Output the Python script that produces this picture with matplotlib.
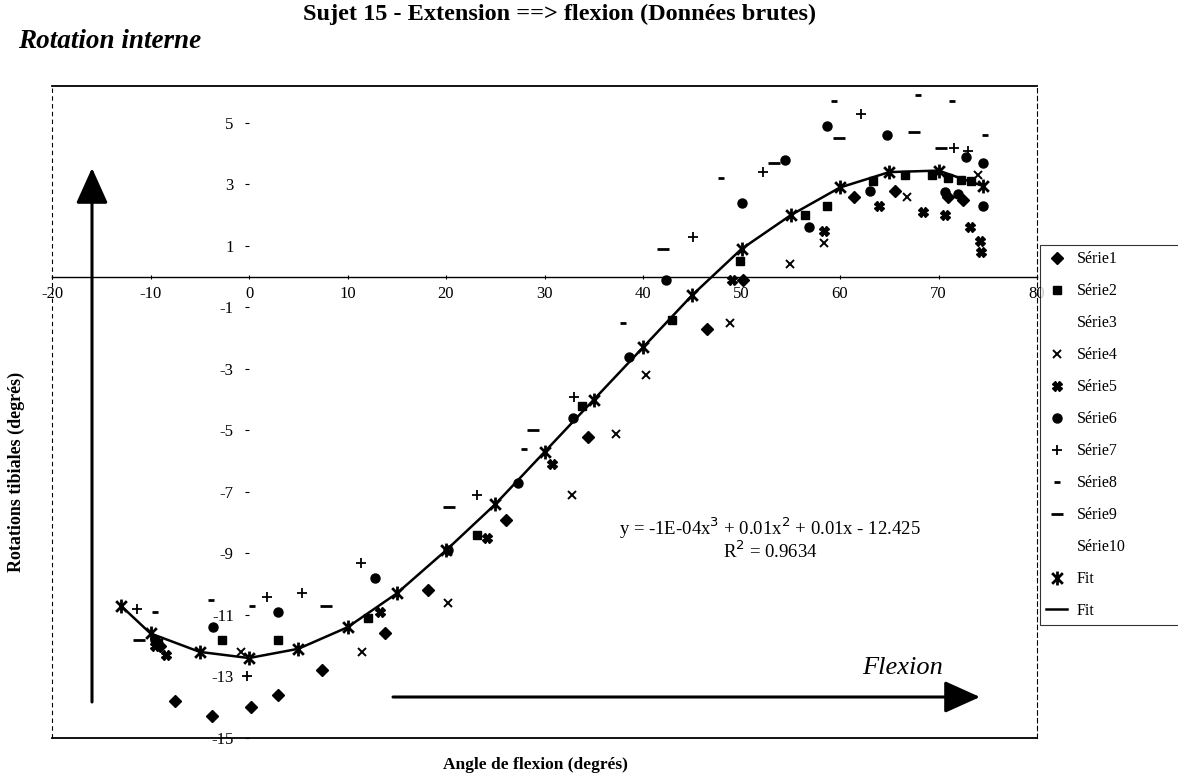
# Sujet 15 - rotations tibiales en fonction de l'angle de flexion
import matplotlib
matplotlib.use("Agg")
import matplotlib.pyplot as plt
from matplotlib.path import Path

plt.rcParams['font.family'] = ['Liberation Serif', 'DejaVu Serif']
plt.rcParams['axes.unicode_minus'] = False

# données (angle de flexion, rotation tibiale)
s1_x = [-9.0, -7.5, -3.8, 0.2, 2.9, 7.4, 13.8, 18.2, 26.1, 34.4, 46.5, 50.2, 61.4, 65.6, 71.0, 72.5]
s1_y = [-12.0, -13.8, -14.3, -14.0, -13.6, -12.8, -11.6, -10.2, -7.9, -5.2, -1.7, -0.1, 2.6, 2.8, 2.6, 2.5]

s2_x = [-9.2, -2.7, 2.9, 12.1, 23.1, 33.8, 42.9, 49.8, 56.4, 58.7, 63.3, 66.6, 69.3, 71.0, 72.3, 73.3]
s2_y = [-11.9, -11.8, -11.8, -11.1, -8.4, -4.2, -1.4, 0.5, 2.0, 2.3, 3.1, 3.3, 3.3, 3.2, 3.15, 3.1]

s3_x = []
s3_y = []

s4_x = [-0.8, 11.5, 20.2, 32.8, 37.3, 40.3, 48.8, 54.9, 58.4, 66.8, 74.0]
s4_y = [-12.2, -12.2, -10.6, -7.1, -5.1, -3.2, -1.5, 0.4, 1.1, 2.6, 3.3]

s5_x = [-9.5, -8.4, 13.3, 24.2, 30.8, 49.0, 58.4, 64.0, 68.4, 70.7, 73.2, 74.2, 74.3]
s5_y = [-12.0, -12.3, -10.9, -8.5, -6.1, -0.1, 1.5, 2.3, 2.1, 2.0, 1.6, 1.15, 0.8]

s6_x = [-9.5, -3.7, 2.9, 12.8, 20.2, 27.3, 32.9, 38.6, 42.3, 50.1, 54.4, 56.9, 58.7,
        63.0, 64.8, 70.7, 72.0, 72.8, 74.5, 74.5]
s6_y = [-11.8, -11.4, -10.9, -9.8, -8.9, -6.7, -4.6, -2.6, -0.1, 2.4, 3.8, 1.6, 4.9,
        2.8, 4.6, 2.75, 2.7, 3.9, 3.7, 2.3]

s7_x = [-11.4, -0.2, 1.8, 5.4, 11.4, 23.1, 33.0, 45.1, 52.2, 62.1, 71.6, 73.0]
s7_y = [-10.8, -13.0, -10.4, -10.3, -9.3, -7.1, -3.9, 1.3, 3.4, 5.3, 4.2, 4.1]

s8_x = [-9.5, -3.9, 0.3, 27.9, 38.0, 47.9, 59.4, 67.9, 71.4, 74.7]
s8_y = [-10.9, -10.5, -10.7, -5.6, -1.5, 3.2, 5.7, 5.9, 5.7, 4.6]

s9_x = [-11.2, 7.8, 20.3, 28.8, 42.0, 53.3, 59.9, 67.5, 70.3]
s9_y = [-11.8, -10.7, -7.5, -5.0, 0.9, 3.7, 4.5, 4.7, 4.2]

s10_x = []
s10_y = []

fit_x = [-13, -10, -5, 0, 5, 10, 15, 20, 25, 30, 35, 40, 45, 50, 55, 60, 65, 70, 74.5]
fit_y = [-10.7, -11.6, -12.2, -12.4, -12.1, -11.4, -10.3, -8.9, -7.4, -5.7, -4.0,
         -2.3, -0.6, 0.9, 2.0, 2.9, 3.4, 3.45, 2.95]

x_ticks = list(range(-20, 81, 10))
y_ticks = list(range(-15, 6, 2))

W, H = 1178, 780
fig = plt.figure(figsize=(W / 100, H / 100), dpi=100)

def fx(px):
    return px / W

def fy(py):
    return 1 - py / H

ax = fig.add_axes([fx(52), fy(738), fx(1037 - 52), (738 - 86) / H])
ax.set_xlim(-20, 80)
ax.set_ylim(-15, 6.2)

# marqueur étoile d'Excel (x + trait vertical)
star = Path([(-1, -1), (1, 1), (-1, 1), (1, -1), (0, -1.3), (0, 1.3)],
            [Path.MOVETO, Path.LINETO, Path.MOVETO, Path.LINETO, Path.MOVETO, Path.LINETO])

k = dict(linestyle='none', color='black')
h1, = ax.plot(s1_x, s1_y, marker='D', ms=6, **k)
h2, = ax.plot(s2_x, s2_y, marker='s', ms=5.5, **k)
h3, = ax.plot(s3_x, s3_y, marker='none', **k)
h4, = ax.plot(s4_x, s4_y, marker='x', ms=6, mew=1.4, **k)
h5, = ax.plot(s5_x, s5_y, marker='X', ms=7, **k)
h6, = ax.plot(s6_x, s6_y, marker='o', ms=6.5, **k)
h7, = ax.plot(s7_x, s7_y, marker='+', ms=7, mew=1.3, **k)
h8, = ax.plot(s8_x, s8_y, marker='_', ms=5, mew=2, **k)
h9, = ax.plot(s9_x, s9_y, marker='_', ms=9, mew=2, **k)
h10, = ax.plot(s10_x, s10_y, marker='none', **k)
hf, = ax.plot(fit_x, fit_y, marker=star, ms=10, mew=2, **k)
hl, = ax.plot(fit_x, fit_y, color='black', lw=1.8)

# axes qui se croisent en (0, 0)
ax.spines['bottom'].set_position(('data', 0))
ax.spines['bottom'].set_linewidth(1.0)
ax.spines['left'].set_position(('data', 0))
ax.spines['left'].set_color('none')
ax.spines['top'].set_linewidth(1.3)
ax.spines['right'].set_linewidth(0.8)
ax.spines['right'].set_linestyle((0, (4, 3)))
ax.plot([0, 0], [0, 1], transform=ax.transAxes, color='black', lw=0.8,
        ls=(0, (4, 3)), clip_on=False)
ax.plot([0, 1], [0, 0], transform=ax.transAxes, color='black', lw=1.3, clip_on=False)

ax.set_xticks(x_ticks)
ax.set_xticklabels([str(v) for v in x_ticks])
ax.set_yticks(y_ticks)
ax.set_yticklabels([str(v) for v in y_ticks])
ax.tick_params(axis='x', length=3, direction='inout', pad=5, labelsize=12)
ax.tick_params(axis='y', length=3, direction='out', pad=8, labelsize=12)

fig.text(fx(560), fy(14), 'Sujet 15 - Extension ==> flexion (Données brutes)',
         ha='center', va='center', fontsize=17.5, weight='bold')
fig.text(fx(18), fy(41), 'Rotation interne', ha='left', va='center',
         fontsize=19.5, weight='bold', style='italic')
fig.text(fx(16), fy(472), 'Rotations tibiales (degrés)', rotation=90,
         ha='center', va='center', fontsize=13, weight='bold')
fig.text(fx(535), fy(765), 'Angle de flexion (degrés)', ha='center', va='center',
         fontsize=12.5, weight='bold')
fig.text(fx(770), fy(528), 'y = -1E-04x$^3$ + 0.01x$^2$ + 0.01x - 12.425',
         ha='center', va='center', fontsize=13.5)
fig.text(fx(770), fy(551), 'R$^2$ = 0.9634', ha='center', va='center', fontsize=13.5)
fig.text(fx(903), fy(668), 'Flexion', ha='center', va='center', fontsize=19,
         style='italic')

arrow = dict(arrowstyle='-|>,head_length=1.0,head_width=0.45', lw=2.2, color='black',
             mutation_scale=22, shrinkA=0, shrinkB=0)
ax.annotate('', xy=(fx(92), fy(168)), xytext=(fx(92), fy(702)),
            xycoords='figure fraction', textcoords='figure fraction', arrowprops=arrow)
ax.annotate('', xy=(fx(980), fy(697)), xytext=(fx(393), fy(697)),
            xycoords='figure fraction', textcoords='figure fraction', arrowprops=arrow)

labels = ['Série1', 'Série2', 'Série3', 'Série4', 'Série5', 'Série6', 'Série7',
          'Série8', 'Série9', 'Série10', 'Fit', 'Fit']
leg = fig.legend([h1, h2, h3, h4, h5, h6, h7, h8, h9, h10, hf, hl], labels,
                 loc='upper left', mode='expand',
                 bbox_to_anchor=(fx(1040), fy(628), fx(170), (628 - 245) / H),
                 frameon=True, fancybox=False, edgecolor='black', fontsize=11.5,
                 labelspacing=1.0, handlelength=1.3, handletextpad=0.6,
                 borderaxespad=0, borderpad=0.4)
leg.get_frame().set_linewidth(0.8)

fig.savefig('out.png', dpi=100)
